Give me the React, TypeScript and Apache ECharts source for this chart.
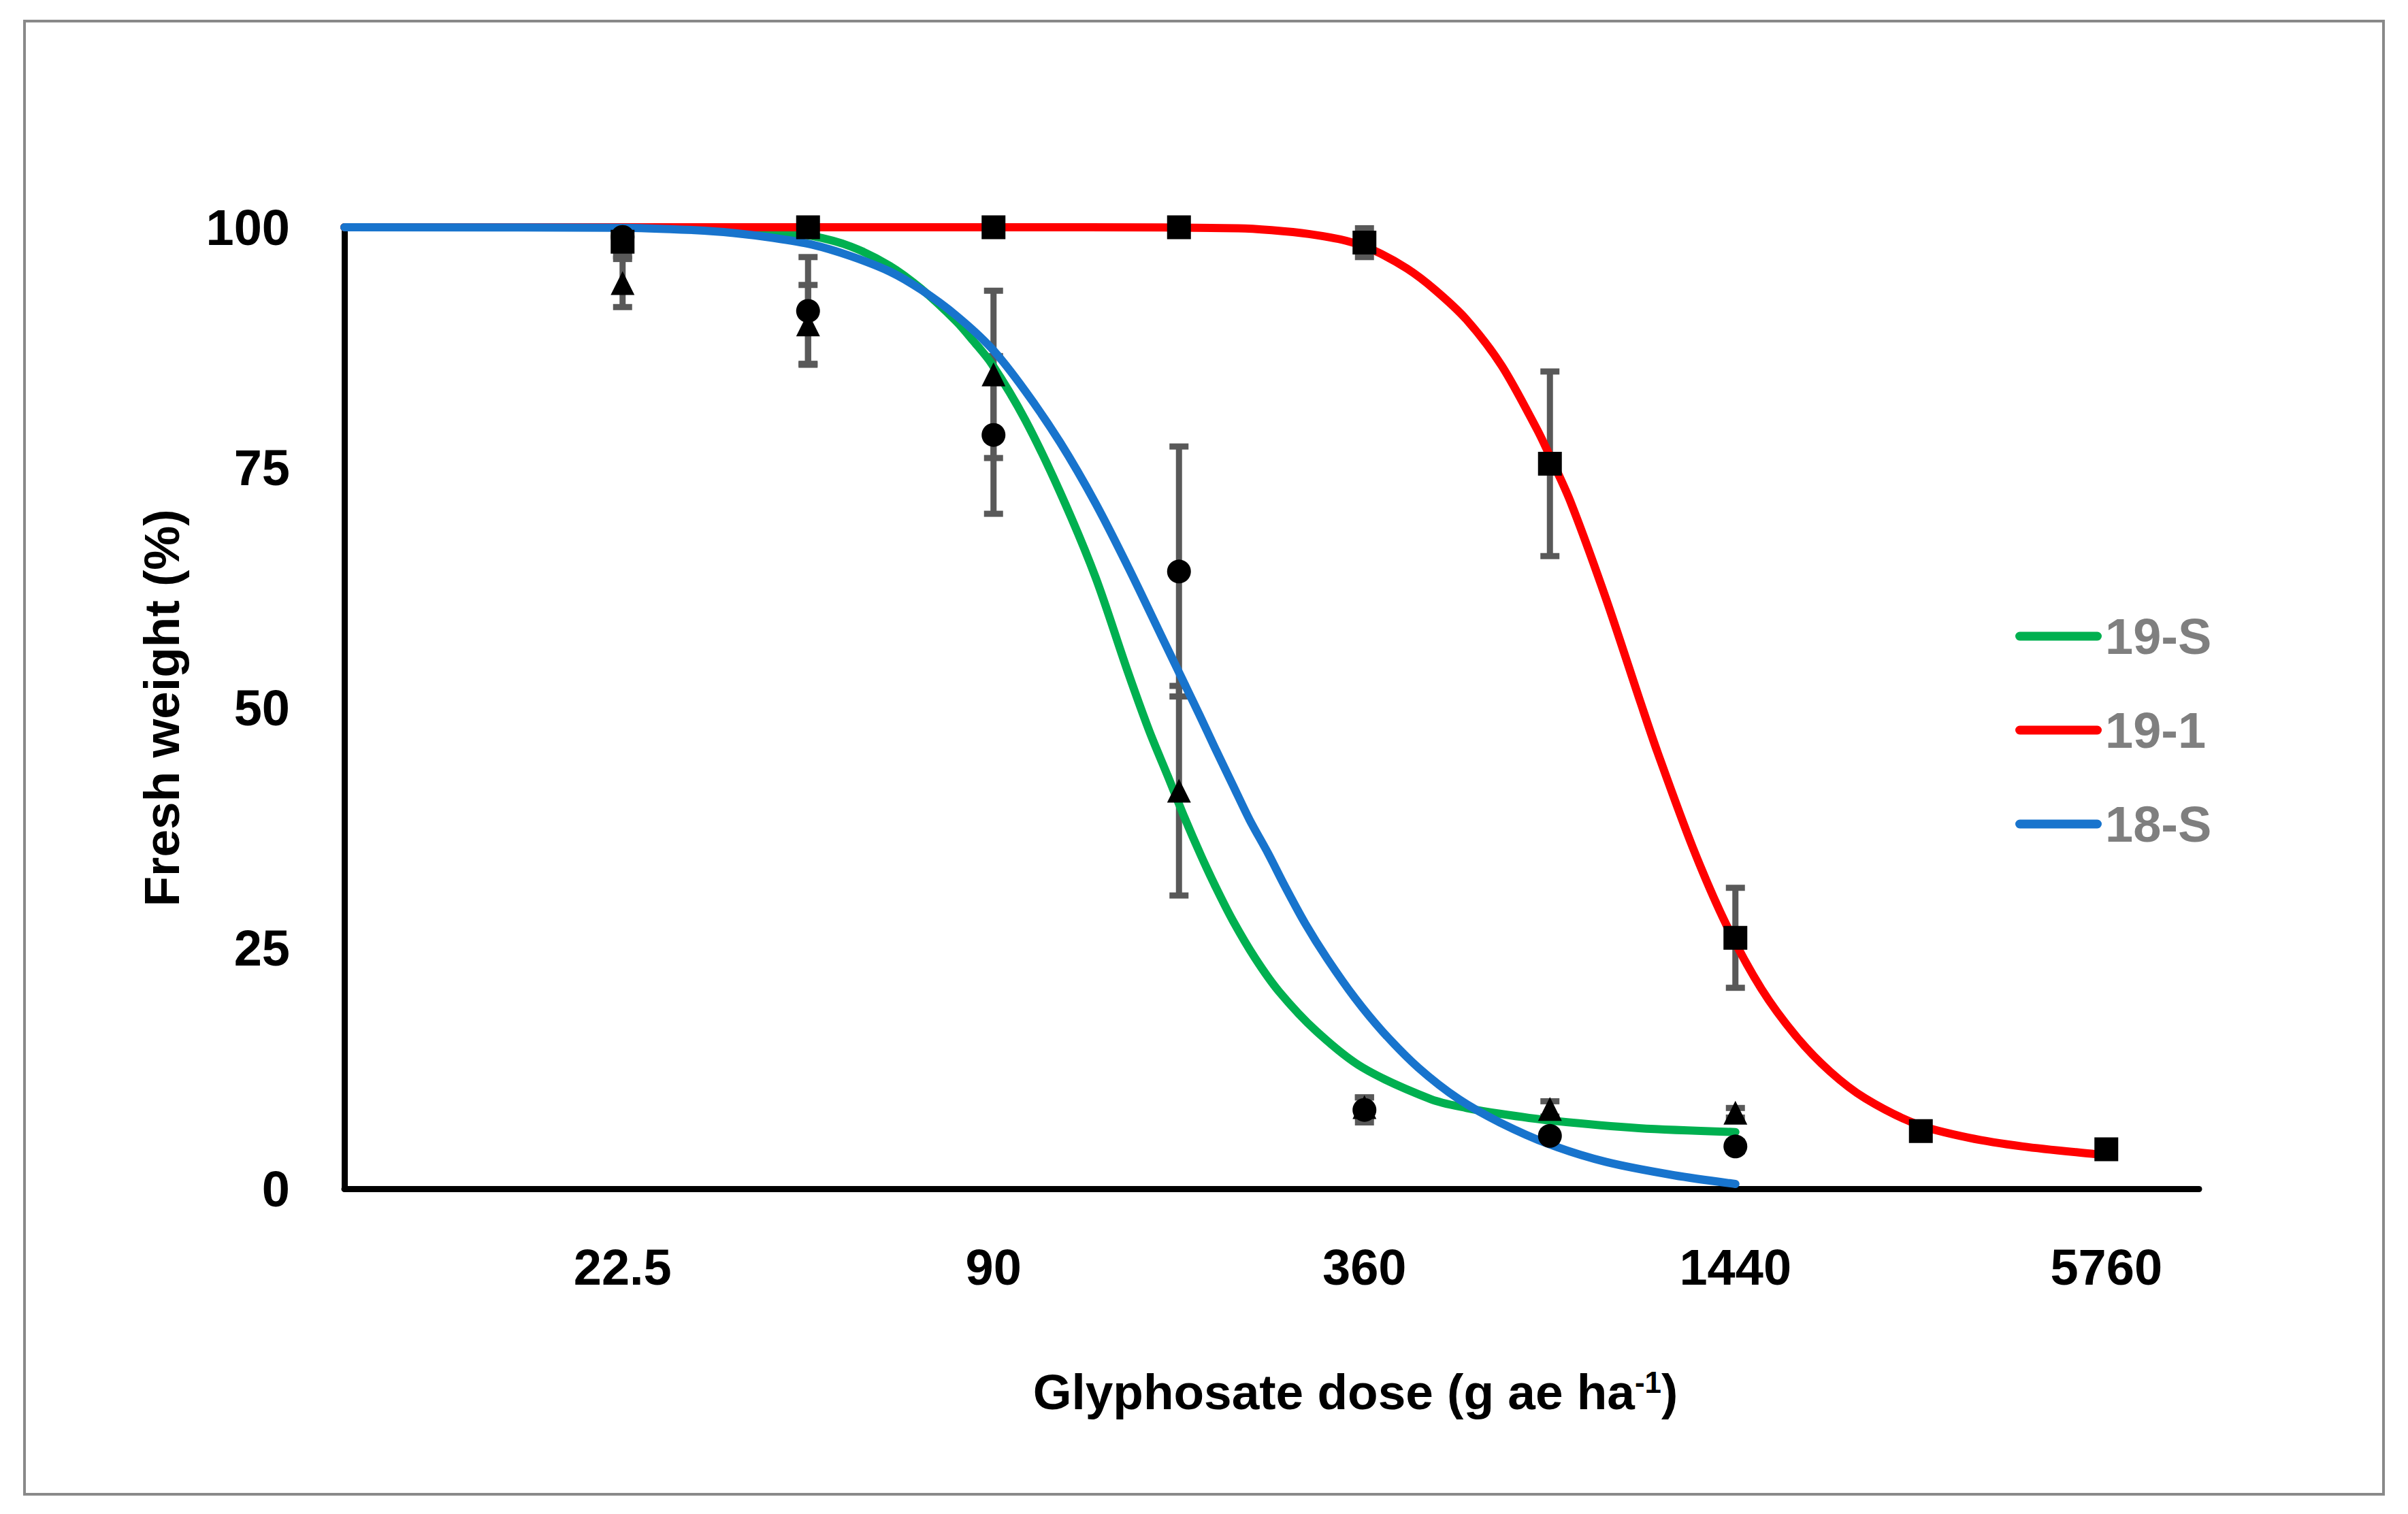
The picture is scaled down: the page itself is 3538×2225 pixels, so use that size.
import React, { useEffect, useRef } from "react";
import * as echarts from "echarts";

// ---------- DATA ----------
// Doses (g ae ha-1) at which plants were sprayed
const DOSES = [22.5, 45, 90, 180, 360, 720, 1440, 2880, 5760];
// Tick labels shown on the dose axis
const TICK_DOSES = [22.5, 90, 360, 1440, 5760];
const SERIES_NAMES = ["19-S", "19-1", "18-S"];

// Observed means (%) and error bars (±)
const MEAN_19S = [94.2, 89.9, 84.7, 41.4, 8.5, 8.3, 7.9];
const ERR_19S = [2.5, 4.1, 8.7, 10.9, 1.0, 0.8, 0.5];
const MEAN_191 = [98.5, 100, 100, 100, 98.4, 75.4, 26.1, 6.0, 4.1];
const ERR_191 = [1.5, 0, 0, 0, 1.5, 9.6, 5.2, 0, 0];
const MEAN_18S = [99.0, 91.3, 78.4, 64.2, 8.2, 5.5, 4.4];
const ERR_18S = [0, 5.6, 8.2, 13.0, 1.3, 0.5, 0.5];

// Fitted curves: position in doubling steps from 22.5 (log2(dose/22.5)) and value (%)
const CURVE_19S_STEP = [-1.5, -0.03, 0.6, 0.81, 1.02, 1.23, 1.44, 1.61, 1.8, 1.89, 1.99, 2.17, 2.36, 2.55, 2.72, 2.84, 2.94, 3.03, 3.12, 3.2, 3.29, 3.41, 3.54, 3.74, 3.99, 4.36, 4.55, 4.73, 5.0, 5.48, 6.0];
const CURVE_19S_VALUE = [100, 100, 99.8, 99.6, 99.1, 98.0, 96.0, 93.6, 90.2, 88.2, 85.8, 80.0, 72.4, 63.6, 54.0, 47.6, 42.9, 38.6, 34.6, 31.3, 27.9, 24.0, 20.5, 16.4, 12.6, 9.3, 8.4, 7.8, 7.1, 6.3, 5.9];

const CURVE_191_STEP = [-1.5, 1.0, 2.5, 3.32, 3.5, 3.7, 3.9, 4.05, 4.23, 4.38, 4.55, 4.74, 4.93, 5.0, 5.11, 5.3, 5.49, 5.58, 5.77, 5.95, 6.14, 6.33, 6.51, 6.7, 6.98, 7.26, 7.55, 7.94, 8.0];
const CURVE_191_VALUE = [100, 100, 100, 99.9, 99.7, 99.3, 98.6, 97.6, 95.7, 93.5, 90.4, 85.6, 79.0, 76.2, 71.5, 61.5, 50.5, 45.4, 35.5, 27.5, 20.8, 15.8, 12.2, 9.4, 6.7, 5.3, 4.4, 3.6, 3.5];

const CURVE_18S_STEP = [-1.5, -0.03, 0.39, 0.6, 0.81, 1.02, 1.23, 1.44, 1.61, 1.8, 1.99, 2.17, 2.36, 2.55, 2.73, 2.92, 3.11, 3.2, 3.29, 3.38, 3.48, 3.57, 3.68, 3.8, 3.95, 4.1, 4.29, 4.51, 4.73, 5.0, 5.3, 5.67, 6.0];
const CURVE_18S_VALUE = [100, 99.95, 99.7, 99.4, 98.9, 98.2, 97.0, 95.4, 93.5, 90.8, 87.4, 83.0, 77.6, 71.3, 64.5, 56.9, 49.3, 45.6, 42.0, 38.4, 34.9, 31.5, 27.6, 23.9, 19.8, 16.3, 12.6, 9.3, 6.9, 4.6, 2.8, 1.4, 0.5];

// ---------- STYLE ----------
const FONT = "'Liberation Sans', Arial, sans-serif";
const COLORS: Record<string, string> = { "19-S": "#00B050", "19-1": "#FF0000", "18-S": "#1874CD" };

const step = (d: number) => Math.log2(d / 22.5);
const zip = (xs: number[], ys: number[]) => xs.map((x, i) => [x, ys[i]]);

export default function App() {
  const ref = useRef<HTMLDivElement>(null);

  useEffect(() => {
    if (!ref.current) return;
    const chart = echarts.init(ref.current, undefined, { renderer: "svg" });

    const points = (means: number[]) => means.map((m, i) => [step(DOSES[i]), m]);
    const bars: number[][] = [];
    const addBars = (means: number[], errs: number[]) =>
      means.forEach((m, i) => {
        if (errs[i] > 0) bars.push([step(DOSES[i]), m - errs[i], m + errs[i]]);
      });
    addBars(MEAN_19S, ERR_19S);
    addBars(MEAN_191, ERR_191);
    addBars(MEAN_18S, ERR_18S);

    const tickLabel = (v: number) => {
      if (Math.abs(v - Math.round(v)) > 1e-9) return "";
      const d = 22.5 * Math.pow(2, v);
      const t = TICK_DOSES.find((td) => Math.abs(td - d) < 1e-6 * td);
      return t === undefined ? "" : String(t);
    };

    const lineSeries = (name: string, xs: number[], ys: number[]) => ({
      name,
      type: "line",
      data: zip(xs, ys),
      showSymbol: false,
      symbol: "none",
      smooth: 0.3,
      clip: false,
      lineStyle: { width: 12, color: COLORS[name], cap: "round" },
      itemStyle: { color: COLORS[name] },
      z: 2,
    });

    const scatterSeries = (name: string, symbol: string, data: number[][]) => ({
      name,
      type: "scatter",
      data,
      symbol,
      symbolSize: 35,
      clip: false,
      itemStyle: { color: "#000000", opacity: 1 },
      z: 3,
    });

    const option: any = {
      animation: false,
      backgroundColor: "#ffffff",
      textStyle: { fontFamily: FONT },
      grid: { left: 506, right: 307, top: 334, bottom: 478, containLabel: false },
      graphic: [
        {
          type: "rect",
          shape: { x: 36, y: 31, width: 3466, height: 2165 },
          style: { fill: "none", stroke: "#898989", lineWidth: 4 },
          silent: true,
        },
      ],
      legend: {
        orient: "vertical",
        left: 2956,
        top: 893,
        itemWidth: 127,
        itemHeight: 13,
        itemGap: 64,
        selectedMode: false,
        icon: "path://M6.5,0 L120.5,0 A6.5,6.5 0 0 1 120.5,13 L6.5,13 A6.5,6.5 0 0 1 6.5,0 Z",
        data: SERIES_NAMES,
        textStyle: { color: "#7F7F7F", fontSize: 74, fontWeight: "bold", fontFamily: FONT, lineHeight: 74 },
      },
      xAxis: {
        type: "value",
        min: -1.5,
        max: 8.5,
        interval: 0.5,
        splitLine: { show: false },
        axisTick: { show: false },
        axisLine: { show: true, onZero: false, lineStyle: { color: "#000", width: 9 } },
        axisLabel: {
          formatter: tickLabel,
          margin: 78,
          color: "#000",
          fontSize: 74,
          fontWeight: "bold",
          fontFamily: FONT,
          showMinLabel: true,
          showMaxLabel: true,
        },
        name: "Glyphosate dose (g ae ha{sup|-1})",
        nameLocation: "middle",
        nameGap: 262,
        nameTextStyle: {
          color: "#000",
          fontSize: 73,
          fontWeight: "bold",
          fontFamily: FONT,
          padding: [0, 0, 0, 246],
          rich: {
            sup: { fontSize: 44, fontWeight: "bold", fontFamily: FONT, color: "#000", verticalAlign: "top" },
          },
        },
      },
      yAxis: {
        type: "value",
        min: 0,
        max: 100,
        interval: 25,
        splitLine: { show: false },
        axisTick: { show: false },
        axisLine: { show: true, onZero: false, lineStyle: { color: "#000", width: 9 } },
        axisLabel: { margin: 80, color: "#000", fontSize: 74, fontWeight: "bold", fontFamily: FONT },
        name: "Fresh weight (%)",
        nameLocation: "middle",
        nameRotate: 90,
        nameGap: 232,
        nameTextStyle: { color: "#000", fontSize: 73, fontWeight: "bold", fontFamily: FONT },
      },
      series: [
        {
          name: "error bars",
          type: "custom",
          data: bars,
          encode: { x: 0, y: [1, 2] },
          clip: false,
          z: 1,
          renderItem: (params: any, api: any) => {
            const x = api.value(0);
            const lo = api.coord([x, api.value(1)]);
            const hi = api.coord([x, api.value(2)]);
            const hw = 14;
            const st = { stroke: "#595959", lineWidth: 9 };
            return {
              type: "group",
              children: [
                { type: "line", shape: { x1: hi[0], y1: hi[1], x2: lo[0], y2: lo[1] }, style: st },
                { type: "line", shape: { x1: hi[0] - hw, y1: hi[1], x2: hi[0] + hw, y2: hi[1] }, style: st },
                { type: "line", shape: { x1: lo[0] - hw, y1: lo[1], x2: lo[0] + hw, y2: lo[1] }, style: st },
              ],
            };
          },
        },
        lineSeries("19-S", CURVE_19S_STEP, CURVE_19S_VALUE),
        lineSeries("19-1", CURVE_191_STEP, CURVE_191_VALUE),
        lineSeries("18-S", CURVE_18S_STEP, CURVE_18S_VALUE),
        scatterSeries("19-S observed", "triangle", points(MEAN_19S)),
        scatterSeries("19-1 observed", "rect", points(MEAN_191)),
        scatterSeries("18-S observed", "circle", points(MEAN_18S)),
      ],
    };

    chart.setOption(option);
    return () => chart.dispose();
  }, []);

  return (
    <div
      ref={ref}
      style={{ position: "fixed", left: 0, top: 0, width: 3538, height: 2225, background: "#fff" }}
    />
  );
}
